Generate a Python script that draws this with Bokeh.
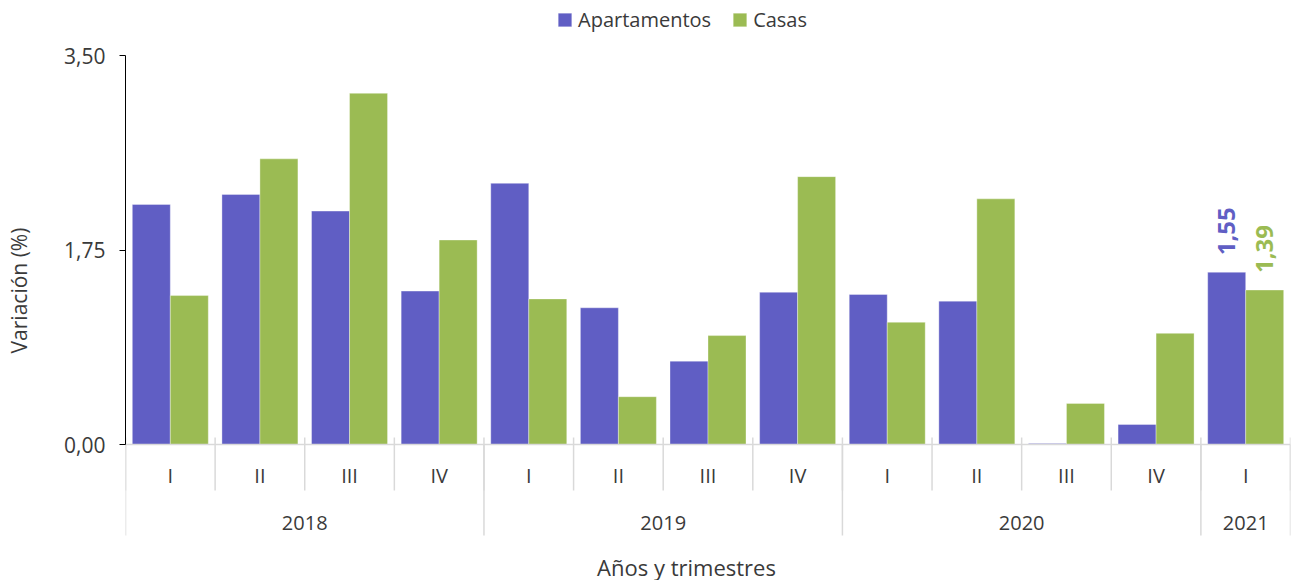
import math
from bokeh.plotting import figure
from bokeh.models import Range1d, FixedTicker, Legend, LegendItem, LinearAxis
from bokeh.core.properties import value
from bokeh.embed import file_html
from bokeh.resources import INLINE

# ---------------- data ----------------
quarters = ["I", "II", "III", "IV", "I", "II", "III", "IV", "I", "II", "III", "IV", "I"]
quarter_year = ["2018"] * 4 + ["2019"] * 4 + ["2020"] * 4 + ["2021"]
years = ["2018", "2019", "2020", "2021"]
apartamentos = [2.16, 2.25, 2.10, 1.38, 2.35, 1.23, 0.75, 1.37, 1.35, 1.29, 0.01, 0.18, 1.55]
casas = [1.34, 2.57, 3.16, 1.84, 1.31, 0.43, 0.98, 2.41, 1.10, 2.21, 0.37, 1.00, 1.39]
y_ticks = [0.0, 1.75, 3.5]
y_tick_labels = ["0,00", "1,75", "3,50"]
labelled_index = [12]          # bars that carry a value label
series_names = ["Apartamentos", "Casas"]

# ---------------- style / layout ----------------
W, H = 1291, 580
LEFT, RIGHT = 125, 1
BASE_PX = 444                  # pixel row of y = 0
TOP_TICK_PX = 55               # pixel row of y = 3.5
PX = (BASE_PX - TOP_TICK_PX) / 3.5
FONT = "Open Sans"
TXT = "#3A3A3A"
C_APT = "#605EC4"
C_CAS = "#9BBB53"
SEP = "#D9D9D9"
BAR_W = 0.424

n = len(quarters)
xs = list(range(n))
x_apt = [i + 0.5 - BAR_W / 2 for i in xs]
x_cas = [i + 0.5 + BAR_W / 2 for i in xs]

p = figure(width=W, height=H, output_backend="svg", toolbar_location=None,
           x_axis_type=None, y_axis_type=None,
           x_range=Range1d(0, n),
           y_range=Range1d(-(H - BASE_PX) / PX, BASE_PX / PX),
           min_border_left=LEFT, min_border_right=RIGHT,
           min_border_top=0, min_border_bottom=0)
p.outline_line_color = None
p.grid.visible = False
p.background_fill_color = "white"

yax = LinearAxis(bounds=(0, 3.5), ticker=FixedTicker(ticks=y_ticks),
                 axis_label="Variación (%)")
yax.major_label_overrides = {t: l for t, l in zip(y_ticks, y_tick_labels)}
yax.axis_line_color = "black"
yax.major_tick_line_color = "black"
yax.major_tick_out = 6
yax.major_tick_in = 0
yax.minor_tick_line_color = None
yax.major_label_standoff = 14
yax.axis_label_standoff = 28
yax.major_label_text_font = FONT
yax.major_label_text_font_size = "21px"
yax.major_label_text_color = TXT
yax.axis_label_text_font = FONT
yax.axis_label_text_font_size = "21px"
yax.axis_label_text_font_style = "normal"
yax.axis_label_text_color = TXT
p.add_layout(yax, "left")

# bars
r_apt = p.vbar(x=x_apt, width=BAR_W, top=apartamentos, bottom=0,
               fill_color=C_APT, line_color="white", line_alpha=0.35, line_width=1)
r_cas = p.vbar(x=x_cas, width=BAR_W, top=casas, bottom=0,
               fill_color=C_CAS, line_color="white", line_alpha=0.35, line_width=1)

# category axis: baseline and separators
p.segment(x0=[0], x1=[n], y0=[0], y1=[0], line_color=SEP, line_width=1.5)
p.segment(x0=xs + [n], x1=xs + [n], y0=[7 / PX] * (n + 1), y1=[-46 / PX] * (n + 1),
          line_color=SEP, line_width=1.5)
bounds = [i for i in xs if i == 0 or quarter_year[i] != quarter_year[i - 1]] + [n]
p.segment(x0=bounds, x1=bounds, y0=[0] * len(bounds), y1=[-91 / PX] * len(bounds),
          line_color=SEP, line_width=1.5)

p.text(x=[i + 0.5 for i in xs], y=[-31 / PX] * n, text=quarters,
       text_font=value(FONT), text_font_size="20px", text_color=TXT,
       text_align="center", text_baseline="middle")
year_x = []
for y in years:
    idx = [i for i in xs if quarter_year[i] == y]
    year_x.append((min(idx) + max(idx) + 1) / 2)
p.text(x=year_x, y=[-78 / PX] * len(years), text=years,
       text_font=value(FONT), text_font_size="20px", text_color=TXT,
       text_align="center", text_baseline="middle")

# x axis title
p.text(x=[(686 - LEFT) / ((W - LEFT - RIGHT) / n)], y=[-(566 - BASE_PX) / PX],
       text=["Años y trimestres"], text_font=value(FONT), text_font_size="22px",
       text_color=TXT, text_align="center", text_baseline="middle")

# value labels
def fmt(v):
    return f"{v:.2f}".replace(".", ",")

for xv, vals, col in ((x_apt, apartamentos, C_APT), (x_cas, casas, C_CAS)):
    p.text(x=[xv[i] for i in labelled_index],
           y=[vals[i] + 17 / PX for i in labelled_index],
           text=[fmt(vals[i]) for i in labelled_index],
           angle=math.pi / 2, text_font=value(FONT), text_font_size="24px",
           text_font_style="bold", text_color=col,
           text_align="left", text_baseline="middle")

legend = Legend(items=[LegendItem(label=series_names[0], renderers=[r_apt]),
                       LegendItem(label=series_names[1], renderers=[r_cas])],
                orientation="horizontal", location=(431, H - 33),
                padding=0, margin=0, spacing=20, label_standoff=5,
                glyph_width=17, glyph_height=17,
                border_line_color=None, background_fill_alpha=0,
                label_text_font=FONT, label_text_font_size="20px",
                label_text_color=TXT)
p.add_layout(legend, "center")

open("out.html", "w").write(file_html(p, INLINE))
